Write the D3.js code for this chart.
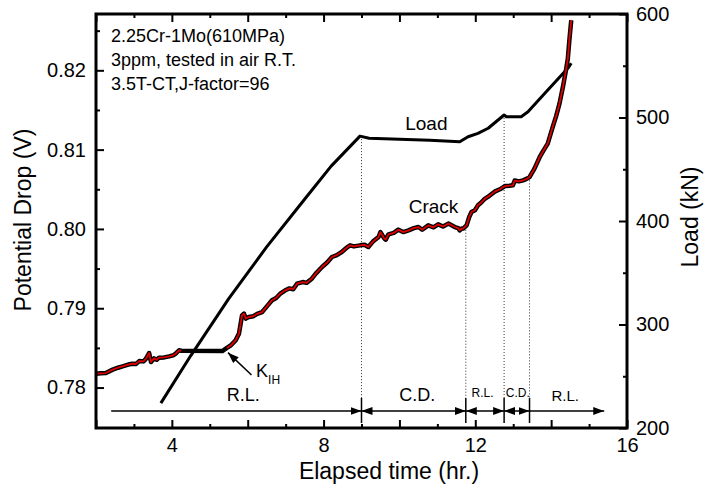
<!DOCTYPE html>
<html>
<head>
<meta charset="utf-8">
<script src="https://d3js.org/d3.v7.min.js"></script>
<style>
  body { margin: 0; background: #fff; }
  svg text { font-family: "Liberation Sans", Arial, Helvetica, sans-serif; fill: #000; }
</style>
</head>
<body>
<svg id="chart"></svg>
<script>
// crack signal: potential drop (V) against elapsed time (hr.)
const crackTime = [2.00, 2.13, 2.26, 2.44, 2.58, 2.70, 2.85, 2.96, 3.05, 3.14, 3.25, 3.31, 3.40, 3.45, 3.53, 3.60,
  3.66, 3.80, 3.93, 4.05, 4.10, 4.19, 4.25, 5.33, 5.45, 5.55, 5.68, 5.77, 5.85, 5.90, 5.95, 6.03, 6.15, 6.25,
  6.38, 6.50, 6.64, 6.75, 6.85, 6.99, 7.10, 7.20, 7.30, 7.45, 7.55, 7.69, 7.80, 7.96, 8.10, 8.22, 8.35, 8.48,
  8.60, 8.70, 8.80, 8.96, 9.08, 9.18, 9.30, 9.45, 9.50, 9.60, 9.64, 9.71, 9.85, 9.97, 10.10, 10.24, 10.38,
  10.50, 10.60, 10.76, 10.90, 11.02, 11.15, 11.29, 11.40, 11.46, 11.55, 11.59, 11.64, 11.68, 11.77, 11.84,
  11.90, 11.99, 12.07, 12.15, 12.25, 12.38, 12.51, 12.65, 12.78, 12.90, 12.99, 13.04, 13.15, 13.26, 13.35,
  13.43, 13.56, 13.70, 13.80, 13.91, 14.04, 14.13, 14.22, 14.31, 14.39, 14.44, 14.48, 14.53];
const crackPD = [0.78175, 0.78180, 0.78183, 0.78226, 0.78250, 0.78267, 0.78290, 0.78301, 0.78296, 0.78334,
  0.78330, 0.78359, 0.78435, 0.78322, 0.78368, 0.78350, 0.78377, 0.78380, 0.78393, 0.78410, 0.78427, 0.78470,
  0.78465, 0.78460, 0.78500, 0.78530, 0.78595, 0.78680, 0.78910, 0.78932, 0.78870, 0.78889, 0.78900, 0.78930,
  0.78952, 0.79020, 0.79100, 0.79130, 0.79180, 0.79226, 0.79250, 0.79240, 0.79310, 0.79330, 0.79320, 0.79373,
  0.79440, 0.79520, 0.79580, 0.79646, 0.79670, 0.79709, 0.79760, 0.79793, 0.79780, 0.79793, 0.79800, 0.79772,
  0.79840, 0.79898, 0.79960, 0.79880, 0.79865, 0.79932, 0.79950, 0.79991, 0.79960, 0.79982, 0.80010, 0.80024,
  0.79990, 0.80045, 0.80020, 0.80058, 0.80030, 0.80067, 0.80040, 0.80024, 0.80010, 0.79982, 0.80004, 0.80004,
  0.80045, 0.80150, 0.80213, 0.80235, 0.80298, 0.80330, 0.80380, 0.80420, 0.80470, 0.80500, 0.80540, 0.80545,
  0.80550, 0.80610, 0.80600, 0.80613, 0.80630, 0.80654, 0.80760, 0.80907, 0.80990, 0.81076, 0.81285, 0.81420,
  0.81580, 0.81789, 0.82000, 0.82147, 0.82378, 0.82631];
// the flat stretch at the K_IH hold is drawn without the red core
const flatFrom = 4.25, flatTo = 5.33;

// load (kN) against elapsed time (hr.)
const loadTime = [3.71, 4.50, 5.50, 6.50, 7.50, 8.20, 8.96, 9.20, 10.00, 10.80, 11.59, 11.81, 12.07, 12.34,
  12.76, 12.82, 13.21, 13.39, 13.87, 14.44, 14.53];
const loadKN = [224, 270, 325, 375, 421, 453, 482, 480, 479, 478, 476.6, 481.4, 484.7, 489.6,
  502.4, 500.8, 500.8, 505.6, 524.9, 547.5, 552.4];

// axes
const xMajor = [2, 4, 6, 8, 10, 12, 14, 16];
const xMinor = [3, 5, 7, 9, 11, 13, 15];
const xLabelled = [4, 8, 12, 16];
const pdMajor = [0.78, 0.79, 0.80, 0.81, 0.82];
const pdMinor = [0.785, 0.795, 0.805, 0.815, 0.825];
const loadMajor = [200, 300, 400, 500, 600];
const loadMinor = [250, 350, 450, 550];

// annotations
const infoLines = ["2.25Cr-1Mo(610MPa)", "3ppm, tested in air R.T.", "3.5T-CT,J-factor=96"];
const phaseLabels = ["R.L.", "C.D.", "R.L.", "C.D.", "R.L."];
const phaseBounds = [2.4, 9.0, 11.75, 12.76, 13.43, 15.4];
const phaseLabelAt = [5.88, 10.47, 12.19, 13.12, 14.37];
const phaseFont = [18, 18, 12, 12, 15];
const guideTimes = [9.0, 11.75, 12.76, 13.43];
const guideFromLoad = [482, null, 502.4, null];
const guideFromPD = [null, 0.7999, null, 0.8065];

const W = 718, H = 493;
const m = { left: 96, right: 91, top: 14, bottom: 65 };
const svg = d3.select("#chart").attr("width", W).attr("height", H);

const x = d3.scaleLinear().domain([2, 16]).range([m.left, W - m.right]);
const yL = d3.scaleLinear().domain([0.7749, 0.8271]).range([H - m.bottom, m.top]);
const yR = d3.scaleLinear().domain([200, 600]).range([H - m.bottom, m.top]);
const bottom = H - m.bottom, right = W - m.right;

svg.append("defs").append("marker")
  .attr("id", "head").attr("viewBox", "0 0 11 8")
  .attr("refX", 11).attr("refY", 4)
  .attr("markerWidth", 11).attr("markerHeight", 8)
  .attr("markerUnits", "userSpaceOnUse")
  .attr("orient", "auto-start-reverse")
  .append("path").attr("d", "M0,0L11,4L0,8Z").attr("fill", "#000");

// dotted guides
guideTimes.forEach((t, i) => {
  const top = guideFromLoad[i] != null ? yR(guideFromLoad[i]) : yL(guideFromPD[i]);
  svg.append("line")
    .attr("x1", x(t)).attr("x2", x(t))
    .attr("y1", top).attr("y2", bottom - 30)
    .attr("stroke", "#333").attr("stroke-width", 1)
    .attr("stroke-dasharray", "1,2");
});

// load curve
const loadData = loadTime.map((t, i) => [t, loadKN[i]]);
svg.append("path").datum(loadData)
  .attr("fill", "none").attr("stroke", "#000").attr("stroke-width", 3)
  .attr("stroke-linejoin", "round")
  .attr("d", d3.line().x(d => x(d[0])).y(d => yR(d[1])));

// crack curve: thick black with red core
const crackData = crackTime.map((t, i) => [t, crackPD[i]]);
const crackLine = d3.line().x(d => x(d[0])).y(d => yL(d[1]));
svg.append("path").datum(crackData)
  .attr("fill", "none").attr("stroke", "#000").attr("stroke-width", 4.5)
  .attr("stroke-linejoin", "round")
  .attr("d", crackLine);
svg.append("path").datum(crackData)
  .attr("fill", "none").attr("stroke", "#e00000").attr("stroke-width", 1.8)
  .attr("stroke-linejoin", "round")
  .attr("d", crackLine.defined(d => d[0] <= flatFrom || d[0] >= flatTo + 0.1));

// axes
function tickStyle(g) {
  g.select(".domain").remove();
  g.selectAll("line").attr("stroke", "#000").attr("stroke-width", 2);
  g.selectAll("text").attr("font-size", 20).attr("fill", "#000");
}
svg.append("g").attr("transform", `translate(0,${bottom})`)
  .call(d3.axisBottom(x).tickValues(xMajor).tickSize(-8).tickPadding(10)
    .tickFormat(d => xLabelled.includes(d) ? d : ""))
  .call(tickStyle);
svg.append("g").attr("transform", `translate(0,${bottom})`)
  .call(d3.axisBottom(x).tickValues(xMinor).tickSize(-4).tickFormat(""))
  .call(tickStyle);
svg.append("g").attr("transform", `translate(0,${m.top})`)
  .call(d3.axisTop(x).tickValues(xMajor).tickSize(-8).tickFormat(""))
  .call(tickStyle);
svg.append("g").attr("transform", `translate(0,${m.top})`)
  .call(d3.axisTop(x).tickValues(xMinor).tickSize(-4).tickFormat(""))
  .call(tickStyle);
svg.append("g").attr("transform", `translate(${m.left},0)`)
  .call(d3.axisLeft(yL).tickValues(pdMajor).tickSize(-8).tickPadding(10).tickFormat(d3.format(".2f")))
  .call(tickStyle);
svg.append("g").attr("transform", `translate(${m.left},0)`)
  .call(d3.axisLeft(yL).tickValues(pdMinor).tickSize(-4).tickFormat(""))
  .call(tickStyle);
svg.append("g").attr("transform", `translate(${right},0)`)
  .call(d3.axisRight(yR).tickValues(loadMajor).tickSize(-8).tickPadding(9))
  .call(tickStyle);
svg.append("g").attr("transform", `translate(${right},0)`)
  .call(d3.axisRight(yR).tickValues(loadMinor).tickSize(-4).tickFormat(""))
  .call(tickStyle);

// frame
svg.append("rect")
  .attr("x", m.left).attr("y", m.top)
  .attr("width", right - m.left).attr("height", bottom - m.top)
  .attr("fill", "none").attr("stroke", "#000").attr("stroke-width", 3);

// axis titles
svg.append("text").attr("x", 389).attr("y", 479)
  .attr("text-anchor", "middle").attr("font-size", 23).text("Elapsed time (hr.)");
svg.append("text").attr("transform", "translate(31,220) rotate(-90)")
  .attr("text-anchor", "middle").attr("font-size", 23).text("Potential Drop (V)");
svg.append("text").attr("transform", "translate(698,217) rotate(-90)")
  .attr("text-anchor", "middle").attr("font-size", 23).text("Load (kN)");

// specimen info
infoLines.forEach((s, i) => {
  svg.append("text").attr("x", m.left + 15).attr("y", m.top + 28 + i * 24)
    .attr("font-size", 18).text(s);
});

// curve labels
svg.append("text").attr("x", x(10.71)).attr("y", yL(0.81243))
  .attr("text-anchor", "middle").attr("font-size", 19).text("Load");
svg.append("text").attr("x", x(10.90)).attr("y", yL(0.80197))
  .attr("text-anchor", "middle").attr("font-size", 19).text("Crack");

// K_IH pointer
svg.append("line")
  .attr("x1", x(6.10)).attr("y1", yL(0.78158))
  .attr("x2", x(5.48)).attr("y2", yL(0.78440))
  .attr("stroke", "#000").attr("stroke-width", 1.5)
  .attr("marker-end", "url(#head)");
const k = svg.append("text").attr("x", x(6.22)).attr("y", yL(0.78133)).attr("font-size", 18);
k.append("tspan").text("K");
k.append("tspan").attr("font-size", 12).attr("dy", 7).text("IH");

// test phases along the bottom
const rowY = bottom - 17;
phaseLabels.forEach((lab, i) => {
  const a = phaseBounds[i], b = phaseBounds[i + 1];
  const ln = svg.append("line")
    .attr("x1", x(a)).attr("x2", x(b)).attr("y1", rowY).attr("y2", rowY)
    .attr("stroke", "#000").attr("stroke-width", 1.5)
    .attr("marker-end", "url(#head)");
  if (i > 0 && i < phaseLabels.length - 1) ln.attr("marker-start", "url(#head)");
  svg.append("text").attr("x", x(phaseLabelAt[i])).attr("y", rowY - (phaseFont[i] > 14 ? 10 : 14))
    .attr("text-anchor", "middle").attr("font-size", phaseFont[i]).text(lab);
});
guideTimes.forEach(t => {
  svg.append("line").attr("x1", x(t)).attr("x2", x(t))
    .attr("y1", bottom - 30).attr("y2", bottom - 5)
    .attr("stroke", "#000").attr("stroke-width", 1.5);
});
</script>
</body>
</html>
